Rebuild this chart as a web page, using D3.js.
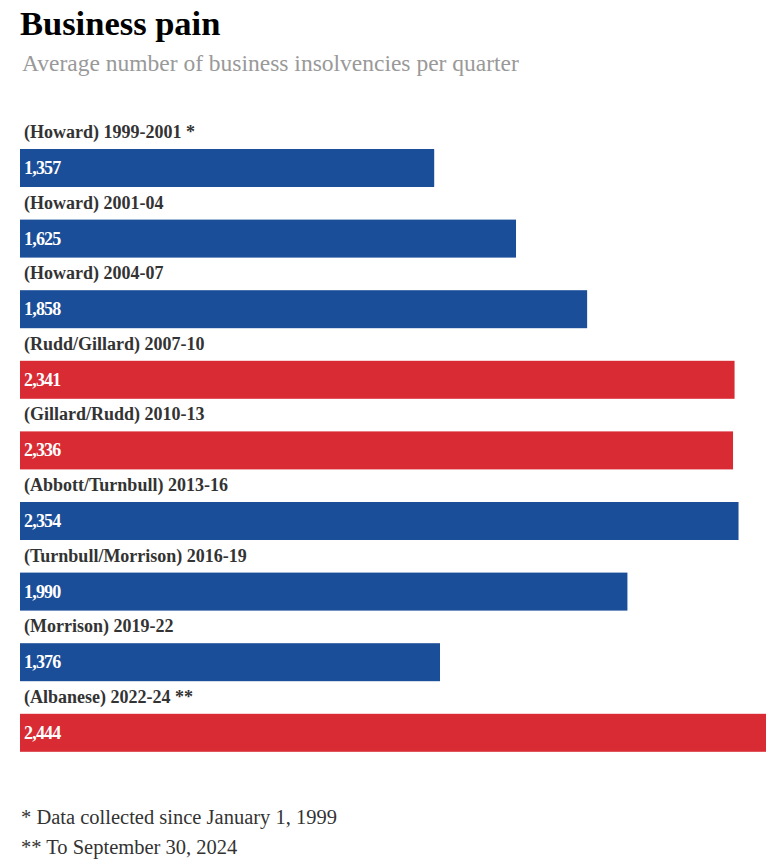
<!DOCTYPE html>
<html>
<head>
<meta charset="utf-8">
<script src="https://cdn.jsdelivr.net/npm/d3@7"></script>
<style>
  body { margin: 0; background: #fff; }
  svg { display: block; }
</style>
</head>
<body>
<svg id="chart" width="774" height="865"></svg>
<script>
const labels = [
  "(Howard) 1999-2001 *",
  "(Howard) 2001-04",
  "(Howard) 2004-07",
  "(Rudd/Gillard) 2007-10",
  "(Gillard/Rudd) 2010-13",
  "(Abbott/Turnbull) 2013-16",
  "(Turnbull/Morrison) 2016-19",
  "(Morrison) 2019-22",
  "(Albanese) 2022-24 **"
];
const values = [1357, 1625, 1858, 2341, 2336, 2354, 1990, 1376, 2444];
const parties = ["lib", "lib", "lib", "alp", "alp", "lib", "lib", "lib", "alp"];
const footnotes = ["* Data collected since January 1, 1999", "** To September 30, 2024"];

const blue = "#1b4e98";
const red = "#d92b34";
const serif = "'Liberation Serif', 'DejaVu Serif', serif";

const svg = d3.select("#chart");

svg.append("text")
    .attr("x", 20).attr("y", 35)
    .attr("font-family", serif)
    .attr("font-weight", "bold")
    .attr("font-size", 34.5)
    .attr("fill", "#000")
    .text("Business pain");

svg.append("text")
    .attr("x", 22).attr("y", 71)
    .attr("font-family", serif)
    .attr("font-size", 23.5)
    .attr("fill", "#999")
    .text("Average number of business insolvencies per quarter");

const x = d3.scaleLinear()
    .domain([0, d3.max(values)])
    .range([20, 766]);

// each row = label + bar, 70.6px apart
const y = d3.scaleBand()
    .domain(d3.range(values.length))
    .range([149, 149 + 70.6 * values.length])
    .paddingInner(0)
    .paddingOuter(0);

const barH = 38;

const rows = svg.selectAll(".row")
    .data(values)
    .enter().append("g")
    .attr("class", "row")
    .attr("transform", (d, i) => `translate(0,${y(i)})`);

rows.append("text")
    .attr("x", 24).attr("y", -11)
    .attr("font-family", serif)
    .attr("font-weight", "bold")
    .attr("font-size", 18)
    .attr("fill", "#333")
    .text((d, i) => labels[i]);

rows.append("rect")
    .attr("x", x(0))
    .attr("y", 0)
    .attr("width", d => x(d) - x(0))
    .attr("height", barH)
    .attr("fill", (d, i) => parties[i] === "alp" ? red : blue);

rows.append("text")
    .attr("x", 24).attr("y", 25)
    .attr("font-family", serif)
    .attr("font-weight", "bold")
    .attr("font-size", 18)
    .attr("letter-spacing", -0.8)
    .attr("fill", "#fff")
    .text(d => d3.format(",")(d));

svg.selectAll(".foot")
    .data(footnotes)
    .enter().append("text")
    .attr("class", "foot")
    .attr("x", 21)
    .attr("y", (d, i) => 824 + i * 30)
    .attr("font-family", serif)
    .attr("font-size", 20.5)
    .attr("fill", "#333")
    .text(d => d);
</script>
</body>
</html>
